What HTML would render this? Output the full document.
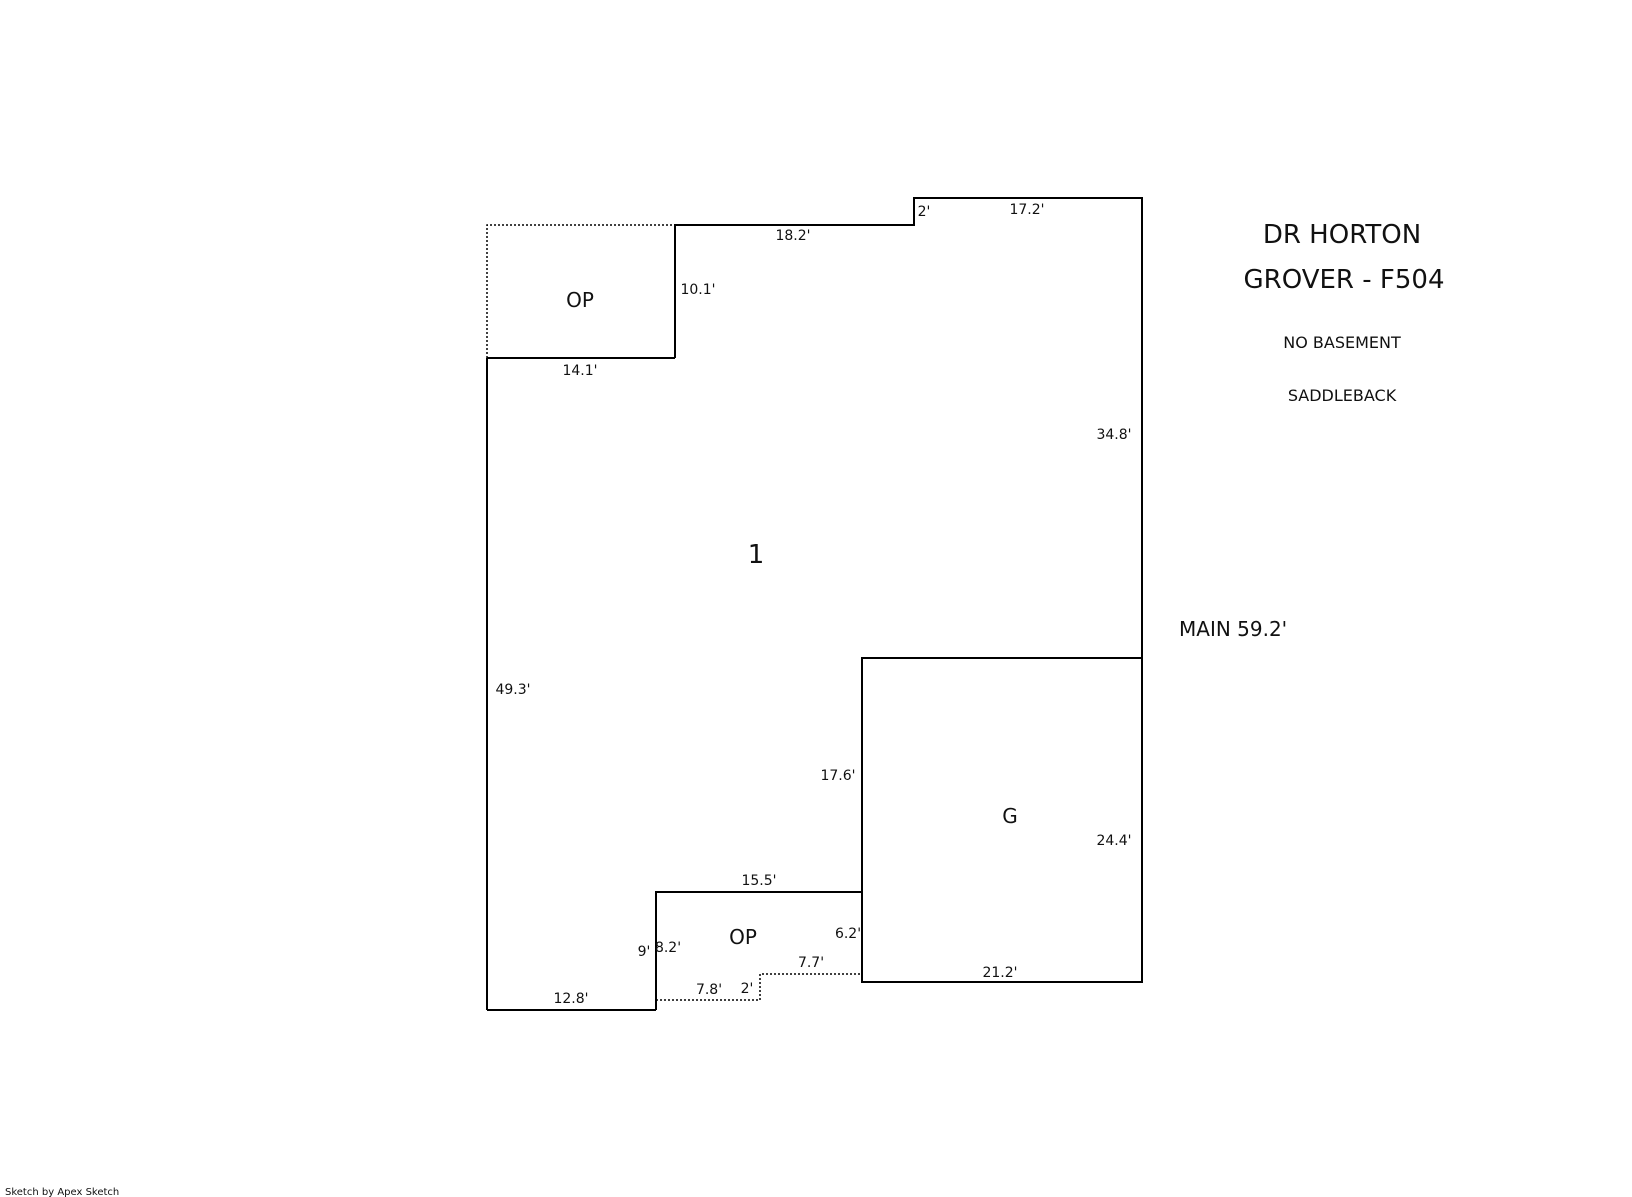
<!DOCTYPE html>
<html><head><style>
body{margin:0;background:#fff;}
svg{display:block}
text{font-family:"DejaVu Sans","Liberation Sans",sans-serif;fill:#111;}
</style></head><body>
<svg width="1632" height="1197" viewBox="0 0 1632 1197" xmlns="http://www.w3.org/2000/svg">
<g stroke="#000" stroke-width="2" fill="none">
<polyline points="675,358 675,225 914,225 914,198 1142,198 1142,982 862,982 862,658 1142,658"/>
<line x1="487" y1="358" x2="675" y2="358"/>
<line x1="487" y1="358" x2="487" y2="1010"/>
<line x1="487" y1="1010" x2="656" y2="1010"/>
<polyline points="656,1010 656,892 862,892"/>
</g>
<g stroke="#000" stroke-width="1.5" fill="none" stroke-dasharray="2,2">
<polyline points="487,358 487,225 675,225"/>
<polyline points="656,1000 760,1000 760,974 862,974"/>
</g>
<g text-anchor="middle">
<text x="1342" y="243" font-size="26">DR HORTON</text>
<text x="1344" y="288" font-size="26">GROVER - F504</text>
<text x="1342" y="348" font-size="16">NO BASEMENT</text>
<text x="1342" y="401" font-size="16">SADDLEBACK</text>
<text x="756" y="563" font-size="26">1</text>
<text x="580" y="307" font-size="20">OP</text>
<text x="743" y="944" font-size="20">OP</text>
<text x="1010" y="823" font-size="20">G</text>
<g font-size="14">
<text x="793" y="240">18.2'</text>
<text x="924" y="216">2'</text>
<text x="1027" y="214">17.2'</text>
<text x="698" y="294">10.1'</text>
<text x="580" y="375">14.1'</text>
<text x="1114" y="439">34.8'</text>
<text x="513" y="694">49.3'</text>
<text x="838" y="780">17.6'</text>
<text x="1114" y="845">24.4'</text>
<text x="759" y="885">15.5'</text>
<text x="848" y="938">6.2'</text>
<text x="644" y="956">9'</text>
<text x="668" y="952">8.2'</text>
<text x="811" y="967">7.7'</text>
<text x="709" y="994">7.8'</text>
<text x="747" y="993">2'</text>
<text x="1000" y="977">21.2'</text>
<text x="571" y="1003">12.8'</text>
</g>
</g>
<text x="1179" y="636" font-size="20">MAIN 59.2'</text>
<text x="5" y="1195" font-size="10">Sketch by Apex Sketch</text>
</svg>
</body></html>
